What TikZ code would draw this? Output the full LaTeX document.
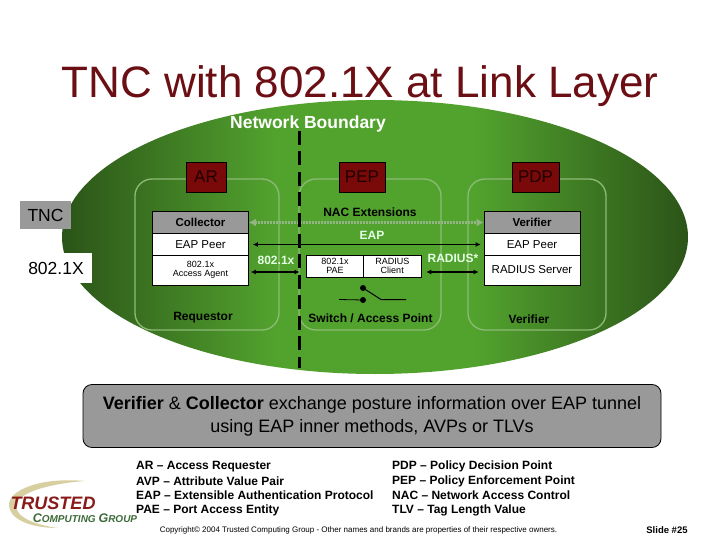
\documentclass[tikz,border=0pt]{standalone}
\usepackage{fontspec}
\setmainfont{Liberation Sans}
\usetikzlibrary{arrows.meta,shapes.geometric}
\definecolor{titlered}{HTML}{6B0F14}
\definecolor{boxred}{HTML}{7A0A0A}
\definecolor{greybox}{HTML}{999999}
\definecolor{edgegreen}{HTML}{2B5418}
\definecolor{midgreen}{HTML}{52A22E}
\definecolor{contour}{HTML}{8DBB76}
\definecolor{dotgreen}{HTML}{93B585}
\definecolor{tagtext}{HTML}{200000}
\definecolor{tan}{HTML}{D8CFA0}
\definecolor{logored}{HTML}{8A1A1A}
\definecolor{logogreen}{HTML}{3D6B3A}
\pgfdeclarehorizontalshading{nacgreen}{100bp}{
  color(0bp)=(edgegreen); color(25bp)=(edgegreen); color(42bp)=(midgreen);
  color(58bp)=(midgreen); color(75bp)=(edgegreen); color(100bp)=(edgegreen)}
\newcommand{\fs}[1]{\fontsize{#1}{#1}\selectfont}
\tikzset{
  x=1pt,y=-1pt,
  tagbox/.style={draw=black,line width=.7pt,fill=boxred,text=tagtext,minimum height=30pt,inner sep=0pt,font=\fs{17}},
  region/.style={draw=contour,line width=1.3pt,rounded corners=17pt},
  whitecell/.style={draw=black,line width=.7pt,fill=white,inner sep=0pt,align=center},
  greycell/.style={whitecell,fill=greybox,font=\fs{11.5}\bfseries},
  flow/.style={line width=1.2pt,{Latex[length=5pt,width=5pt]}-{Latex[length=5pt,width=5pt]}},
  dotflow/.style={line width=2.6pt,dash pattern=on 2pt off 1pt,draw=dotgreen,{Latex[length=7pt,width=8pt,fill=dotgreen,sep=0pt]}-{Latex[length=7pt,width=8pt,fill=dotgreen]}},
  sidebox/.style={inner sep=0pt,font=\fs{17.5}},
  lbl/.style={inner sep=0pt,font=\fs{12}\bfseries},
  wlbl/.style={lbl,text=white!90!green},
  legend/.style={inner sep=0pt,anchor=west,font=\fs{12}\bfseries,align=left},
  pin/.style={circle,fill=black,inner sep=0pt,minimum size=6pt}
}
\begin{document}
\begin{tikzpicture}
\useasboundingbox (0,0) rectangle (720,540);
\fill[white] (0,0) rectangle (720,540);
\node[inner sep=0pt,text=titlered,font=\fs{44}] (title) at (360,86) {TNC with 802.1X at Link Layer};
\shade[shading=nacgreen] (375,237) ellipse [x radius=313,y radius=137];
\node[sidebox,fill=greybox,minimum width=51pt,minimum height=28pt] (tnc) at (45.5,215) {TNC};
\node[sidebox,fill=white,minimum width=72pt,minimum height=30pt] (x8021) at (56,268) {802.1X};
\node[inner sep=0pt,font=\fs{17.5}\bfseries,text=white] (nb) at (308,124) {Network Boundary};
% regions
\draw[region] (135,179) rectangle (279,330);
\draw[region] (299,179) rectangle (441,330);
\draw[region] (468,179) rectangle (606,330);
\node[tagbox,minimum width=40pt] (ar) at (206,177) {AR};
\node[tagbox,minimum width=46pt] (pep) at (362,177) {PEP};
\node[tagbox,minimum width=47pt] (pdp) at (535.5,177) {PDP};
% left stack
\node[greycell,minimum width=96pt,minimum height=22.5pt] (coll) at (200.5,222.5) {Collector};
\node[whitecell,minimum width=96pt,minimum height=21.5pt,font=\fs{11.5}] (peerl) at (200.5,244.5) {EAP Peer};
\node[whitecell,minimum width=96pt,minimum height=30pt,font=\fs{9}] (agent) at (200.5,270) {802.1x\\Access Agent};
% right stack
\node[greycell,minimum width=96pt,minimum height=22.5pt] (veri) at (532,222.5) {Verifier};
\node[whitecell,minimum width=96pt,minimum height=21.5pt,font=\fs{11.5}] (peerr) at (532,244.5) {EAP Peer};
\node[whitecell,minimum width=96pt,minimum height=30pt,font=\fs{11.5}] (rad) at (532,270) {RADIUS Server};
% middle
\node[whitecell,minimum width=57.5pt,minimum height=22pt,font=\fs{9}] (pae) at (335,266) {802.1x\\PAE};
\node[whitecell,minimum width=57.5pt,minimum height=22pt,font=\fs{9}] (client) at (392.25,266) {RADIUS\\Client};
% connectors under the boundary
\draw[dotflow] (coll.east) -- (veri.west);
% boundary line
\coordinate (btop) at (299.5,131);
\coordinate (bbot) at (299.5,368);
\coordinate (bmid) at (299.5,272);
\draw[line width=3.6pt,dash pattern=on 14pt off 6.5pt] (btop) -- (bbot);
\draw[flow,shorten <=4pt,shorten >=3pt] (peerl.east) -- (peerr.west);
\draw[flow,shorten <=2pt] (agent.east |- bmid) -- (bmid);
\draw[flow,shorten <=5pt,shorten >=5pt] (client.east |- bmid) -- (rad.west |- bmid);
% labels
\node[lbl] (nacx) at (370,212.5) {NAC Extensions};
\node[wlbl] (eap) at (372,235.5) {EAP};
\node[wlbl] (l8021) at (276,260) {802.1x};
\node[wlbl] (lrad) at (453,258.5) {RADIUS*};
\node[lbl] (req) at (203,318) {Requestor};
\node[lbl] (sw) at (370.5,318) {Switch / Access Point};
\node[lbl] (vlab) at (529,319) {Verifier};
% switch
\node[pin] (p1) at (363,288) {};
\node[pin] (p2) at (363,300) {};
\coordinate (s0) at (339,299.5);
\coordinate (s1) at (381,299.5);
\coordinate (s2) at (406,299.5);
\draw[line width=.8pt] (s0) -- (p2.center);
\draw[line width=1pt] (p1.center) -- (s1) -- (s2);
% grey summary
\node[draw=black,line width=.8pt,fill=greybox,rounded corners=9pt,minimum width=578pt,minimum height=63pt,inner sep=0pt,align=center,font=\fs{18}] (sum) at (372,416)
 {\textbf{Verifier} \& \textbf{Collector} exchange posture information over EAP tunnel\\[5pt] using EAP inner methods, AVPs or TLVs};
% legend
\node[legend] (a1) at (136,466.5) {AR -- Access Requester};
\node[legend] (a2) at (136,481) {AVP -- Attribute Value Pair};
\node[legend] (a3) at (136,495.5) {EAP -- Extensible Authentication Protocol};
\node[legend] (a4) at (136,510) {PAE -- Port Access Entity};
\node[legend] (b1) at (392,466.5) {PDP -- Policy Decision Point};
\node[legend] (b2) at (392,481) {PEP -- Policy Enforcement Point};
\node[legend] (b3) at (392,495.5) {NAC -- Network Access Control};
\node[legend] (b4) at (392,510) {TLV -- Tag Length Value};
\node[inner sep=0pt,font=\fs{8}] (copy) at (358.5,530) {Copyright© 2004 Trusted Computing Group - Other names and brands are properties of their respective owners.};
\node[inner sep=0pt,font=\fs{9.5}\bfseries] (slide) at (667,530) {Slide \#25};
% logo
\fill[tan] (85,481) .. controls (40,477) and (9,490) .. (9,505) .. controls (9,518) and (28,528) .. (58,528)
  .. controls (35,525) and (16,517) .. (16,506) .. controls (16,494) and (45,484) .. (85,481) -- cycle;
\node[inner sep=0pt,font=\fs{18}\bfseries\itshape,text=logored] (lt) at (53,503) {TRUSTED};
\node[inner sep=0pt,font=\bfseries\itshape,text=logogreen] (lc) at (85,518.5) {\fs{12.5}C\fs{10}OMPUTING \fs{12.5}G\fs{10}ROUP};
\end{tikzpicture}
\end{document}
